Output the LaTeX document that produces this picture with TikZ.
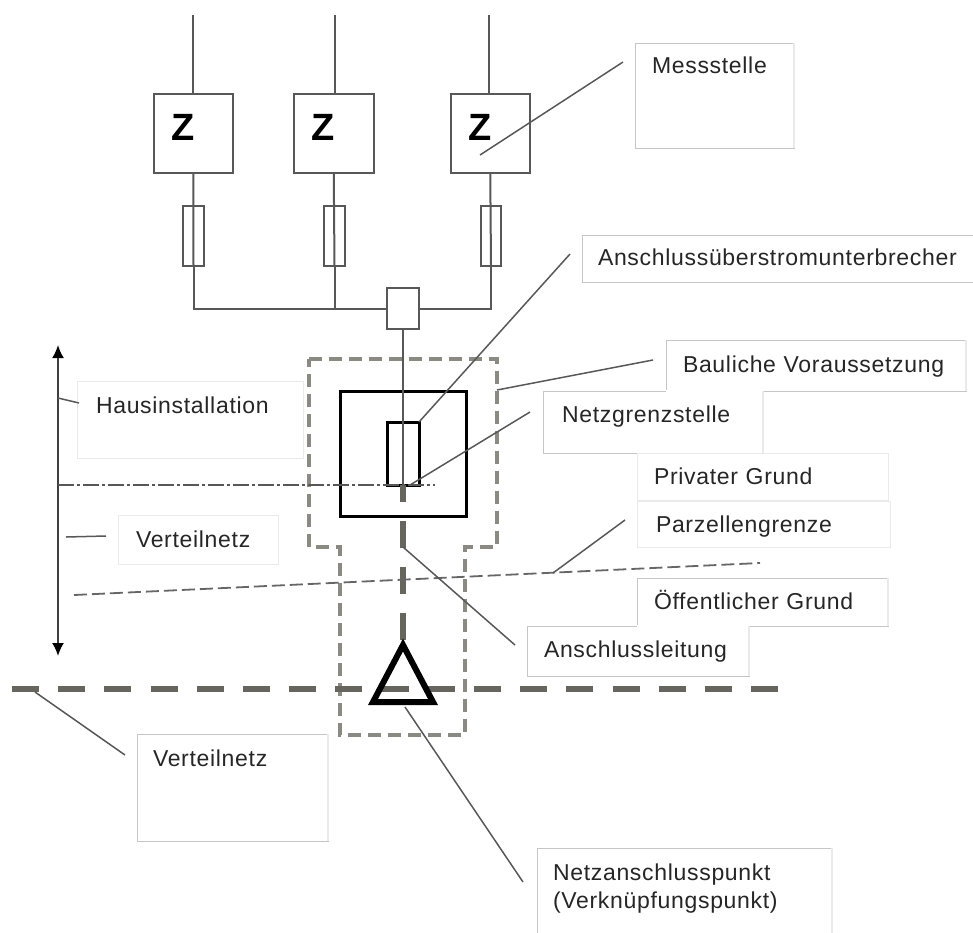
\documentclass[tikz,border=0pt]{standalone}
\usepackage{fontspec}
\setmainfont[LetterSpace=3]{Liberation Sans}
\newfontfamily\zfont{Liberation Sans}
\usetikzlibrary{arrows.meta}
\definecolor{thin}{HTML}{585858}
\definecolor{thick}{HTML}{66665E}
\definecolor{grenzcol}{HTML}{8A8A82}
\definecolor{lblborder}{HTML}{C6C6C6}
\definecolor{lblfaint}{HTML}{EAEAEA}
\tikzset{
  boxed/.style n args={4}{anchor=north west,rectangle,inner sep=0pt,outer sep=0pt,inner xsep=#3pt,
    text width=#1pt-2*#3pt,minimum width=#1pt,minimum height=#2pt,align=left,
    text height=#4pt,text depth=#2pt-#4pt},
  lbl/.style={draw=lblborder,line width=1pt,fill=white,text=black!85,font=\fontsize{23}{28}\selectfont},
  faint/.style={draw=lblfaint},
  zbox/.style={draw=thin,line width=2pt,font=\zfont\fontsize{38}{38}\selectfont\bfseries,text=black},
  fuse/.style={anchor=north west,rectangle,inner sep=0pt,outer sep=0pt,draw=thin,line width=1.8pt,minimum width=#1},
  leader/.style={draw=thin,line width=1.5pt},
  wire/.style={draw=thin,line width=2pt},
  heavy/.style={draw=black,line width=3pt},
  netz/.style={draw=thick,line width=6pt},
}
\begin{document}
\begin{tikzpicture}[x=1pt,y=-1pt]
\useasboundingbox (0,0) rectangle (973,932);
% label boxes
\node[lbl,boxed={159}{105}{17}{30.5}] (mess) at (635,43) {Messstelle};
\node[lbl,boxed={395}{47}{16}{30}] (ansue) at (582,235) {Anschlussüberstromunterbrecher};
\node[lbl,boxed={300}{51}{17}{32}] (bau) at (666,340) {Bauliche Voraussetzung};
\node[lbl,boxed={220}{62}{19}{31}] (grenz) at (543,391) {Netzgrenzstelle};
\node[lbl,faint,boxed={251}{47}{17}{31}] (priv) at (637,453) {Privater Grund};
\node[lbl,faint,boxed={253}{46}{19}{31}] (parz) at (637,501) {Parzellengrenze};
\node[lbl,boxed={251}{48}{17}{31}] (oeff) at (637,578) {Öffentlicher Grund};
\node[lbl,boxed={222}{50}{17}{31}] (ansl) at (527,626) {Anschlussleitung};
\node[lbl,faint,boxed={226}{77}{19}{32}] (haus) at (77,381) {Hausinstallation};
\node[lbl,faint,boxed={160}{49}{18}{32}] (vert) at (118,515) {Verteilnetz};
\node[lbl,boxed={191}{107}{16}{32}] (vertb) at (137,734) {Verteilnetz};
\node[lbl,boxed={295}{100}{16}{32}] (nap) at (537,848) {Netzanschlusspunkt\\(Verknüpfungspunkt)};
\draw[white,line width=2pt] (bau.south west) -- (grenz.north east);
\draw[white,line width=2pt] (oeff.south west) -- (ansl.north east);
\foreach \n in {mess,bau,grenz,oeff,ansl,vertb,nap}
  \draw[lblfaint,line width=1.2pt] (\n.north east) -- (\n.south east);
% building boundary
\draw[draw=grenzcol,line width=3.2pt,dash pattern=on 13pt off 7pt,line join=miter]
  (309,359) -- (497,359) -- (497,547) -- (465,547) -- (465,735) -- (340,735) -- (340,547) -- (309,547) -- cycle;
% meters
\node[zbox,boxed={79.5}{79}{17.5}{46}] (z1) at (153.5,94) {Z};
\node[zbox,boxed={79.5}{79}{17.5}{46}] (z2) at (294,94) {Z};
\node[zbox,boxed={78.5}{79}{17.5}{46}] (z3) at (451,94) {Z};
\node[fuse=21pt,minimum height=60pt] (f1) at (183,206) {};
\node[fuse=21pt,minimum height=60pt] (f2) at (324,206) {};
\node[fuse=20pt,minimum height=60pt] (f3) at (481,206) {};
\node[fuse=32pt,minimum height=41pt,line width=2pt] (j) at (387,288) {};
\coordinate (t1) at (193,15);
\coordinate (t2) at (335,15);
\coordinate (t3) at (489,15);
\draw[wire] (t1) -- (t1 |- z1.north);
\draw[wire] (t2) -- (t2 |- z2.north);
\draw[wire] (t3) -- (t3 |- z3.north);
\draw[wire] (z1.south) -- (f1.south);
\draw[wire] (z2.south) -- (f2.south);
\draw[wire] (z3.south) -- (f3.south);
\draw[wire,line join=miter] (f1.south) |- (j.west);
\draw[wire,line join=miter] (f2.south) |- (j.west);
\draw[wire,line join=miter] (f3.south) |- (j.east);
% house connection
\node[anchor=north west,rectangle,inner sep=0pt,outer sep=0pt,heavy,minimum width=126pt,minimum height=125pt] (hak) at (340,391) {};
\node[anchor=north west,rectangle,inner sep=0pt,outer sep=0pt,heavy,minimum width=32pt,minimum height=63pt] (ueb) at (387,422) {};
\draw[wire] (j.south) -- (ueb.south);
% network lines
\coordinate (kopf) at (403,640);
\draw[netz,dash pattern=on 27pt off 19pt,dash phase=10pt] (ueb.south) -- (kopf);
\coordinate (nl) at (12,689);
\coordinate (nr) at (778,689);
\draw[netz,dash pattern=on 27pt off 19.2pt] (nl) -- (nr);
% triangle
\coordinate (ta) at (403,645);
\coordinate (tb) at (373,702);
\coordinate (tc) at (433,702);
\draw[black,line width=6pt,line join=miter] (ta) -- (tb) -- (tc) -- cycle;
% range arrow
\coordinate (aup) at (58,345);
\coordinate (adn) at (58,656);
\draw[draw=black!75,line width=2pt,{Latex[length=13pt,width=12pt,black]}-{Latex[length=13pt,width=12pt,black]}] (aup) -- (adn);
% boundaries
\coordinate (dl) at (58,485);
\coordinate (dr) at (435,485);
\draw[draw=thin,line width=1.6pt,dash pattern=on 16pt off 3pt on 3pt off 3pt] (dl) -- (dr);
\coordinate (pl) at (74,595);
\coordinate (pr) at (760,563);
\draw[draw=black!60,line width=1.8pt,dash pattern=on 13pt off 5pt] (pl) -- (pr);
% leaders
\coordinate (m1) at (480,155); \coordinate (m2) at (623,62);
\draw[leader] (m1) -- (m2);
\coordinate (a2) at (570,254);
\draw[leader] (ueb.north east) -- (a2);
\coordinate (b1) at (497,390); \coordinate (b2) at (653,360);
\draw[leader] (b1) -- (b2);
\coordinate (n1) at (410,485); \coordinate (n2) at (530,412);
\draw[leader] (n1) -- (n2);
\coordinate (p1) at (553,573); \coordinate (p2) at (625,520);
\draw[leader] (p1) -- (p2);
\coordinate (l1) at (403,547); \coordinate (l2) at (515,645);
\draw[leader] (l1) -- (l2);
\coordinate (v1) at (35,692); \coordinate (v2) at (125,755);
\draw[leader] (v1) -- (v2);
\coordinate (u1) at (405,707); \coordinate (u2) at (523,882);
\draw[leader] (u1) -- (u2);
\coordinate (h1) at (58,398); \coordinate (h2) at (79,403);
\draw[leader] (h1) -- (h2);
\coordinate (w1) at (66,537); \coordinate (w2) at (106,536);
\draw[leader] (w1) -- (w2);
\end{tikzpicture}
\end{document}
